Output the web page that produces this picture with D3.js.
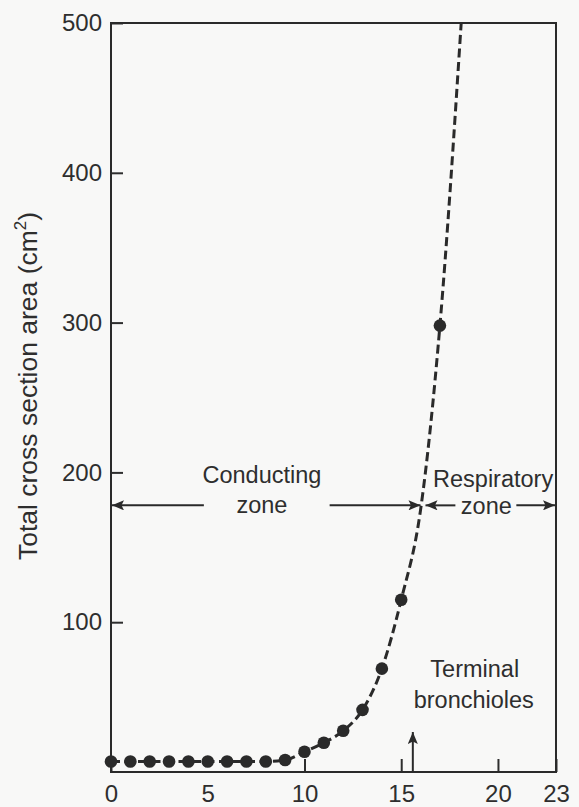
<!DOCTYPE html>
<html>
<head>
<meta charset="utf-8">
<script src="https://cdnjs.cloudflare.com/ajax/libs/d3/7.8.5/d3.min.js"></script>
<style>
  body { margin: 0; background: #f8f8f7; }
  svg { display: block; font-family: "Liberation Sans", Arial, Helvetica, sans-serif; }
  .axis text { font-size: 24px; fill: #2e2e2e; }
  .axis line { stroke: #2e2e2e; stroke-width: 2; }
  .note { font-size: 23.5px; fill: #2e2e2e; }
</style>
</head>
<body>
<script>
// airway generations that carry a dot, and the area
var dotGen = [0, 1, 2, 3, 4, 5, 6, 7, 8, 9, 10, 11, 12, 13, 14, 15, 17];
var dotArea = [7, 7, 7, 7, 7, 7, 7, 7, 7, 8, 13.5, 19.5, 27.5, 41.5, 69, 115, 298];

// dashed trend line
var curveGen = [0, 8, 9, 10, 11, 12, 13, 14, 15, 16, 17, 18.1];
var curveArea = [7, 7, 8, 13.5, 19.5, 27.5, 41.5, 69, 115, 175, 298, 500];

var xTicks = [0, 5, 10, 15, 20, 23];
var yTicks = [100, 200, 300, 400, 500];

// zone annotations (data units)
var zoneSplit = 16.1;
var zoneLevel = 178;
var terminalGen = 15.6;

var W = 579, H = 807;
var margin = {top: 23, right: 23, bottom: 35, left: 111};

var svg = d3.select("body").append("svg")
    .attr("width", W)
    .attr("height", H);

var x = d3.scaleLinear().domain([0, 23]).range([margin.left, W - margin.right]);
var y = d3.scaleLinear().domain([0, 500]).range([H - margin.bottom, margin.top]);

var ink = "#2a2a2a";

// arrow heads
var defs = svg.append("defs");
defs.append("marker")
    .attr("id", "head")
    .attr("viewBox", "0 0 12 10")
    .attr("refX", 12)
    .attr("refY", 5)
    .attr("markerWidth", 13)
    .attr("markerHeight", 10)
    .attr("markerUnits", "userSpaceOnUse")
    .attr("orient", "auto")
  .append("path")
    .attr("d", "M0,0 L12,5 L0,10 L2.5,5 Z")
    .attr("fill", ink);

// x axis
var xAxis = svg.append("g")
    .attr("class", "axis")
    .attr("transform", "translate(0," + y(0) + ")")
    .call(d3.axisBottom(x).tickValues(xTicks).tickSize(-13).tickPadding(13));
xAxis.select(".domain").remove();
xAxis.selectAll(".tick").filter(function(d) { return d == 5; }).select("line").remove();

// y axis
var yAxis = svg.append("g")
    .attr("class", "axis")
    .attr("transform", "translate(" + x(0) + ",0)")
    .call(d3.axisLeft(y).tickValues(yTicks).tickSize(-12).tickPadding(9));
yAxis.select(".domain").remove();

// frame
svg.append("rect")
    .attr("x", x(0))
    .attr("y", y(500))
    .attr("width", x(23) - x(0))
    .attr("height", y(0) - y(500))
    .attr("fill", "none")
    .attr("stroke", ink)
    .attr("stroke-width", 2);

// y label
svg.append("text")
    .attr("transform", "translate(37," + 386 + ") rotate(-90)")
    .attr("text-anchor", "middle")
    .attr("class", "note")
    .style("font-size", "26.5px")
    .text("Total cross section area (cm")
  .append("tspan")
    .attr("dy", -11)
    .style("font-size", "17px")
    .text("2")
  .select(function() { return this.parentNode; })
  .append("tspan")
    .attr("dy", 11)
    .text(")");

// dashed curve
var curvePts = curveGen.map(function(g, i) { return [g, curveArea[i]]; });
var line = d3.line()
    .x(function(d) { return x(d[0]); })
    .y(function(d) { return y(d[1]); })
    .curve(d3.curveMonotoneX);

svg.append("path")
    .attr("d", line(curvePts))
    .attr("fill", "none")
    .attr("stroke", ink)
    .attr("stroke-width", 3)
    .attr("stroke-dasharray", "9,4.5");

// dots
svg.selectAll(".dot")
    .data(dotGen.map(function(g, i) { return [g, dotArea[i]]; }))
    .enter().append("circle")
    .attr("class", "dot")
    .attr("cx", function(d) { return x(d[0]); })
    .attr("cy", function(d) { return y(d[1]); })
    .attr("r", 6.3)
    .attr("fill", ink);

// zone arrows
var ay = y(zoneLevel);
function arrow(x1, x2) {
  svg.append("line")
      .attr("x1", x1).attr("y1", ay)
      .attr("x2", x2).attr("y2", ay)
      .attr("stroke", ink)
      .attr("stroke-width", 2)
      .attr("marker-end", "url(#head)");
}
arrow(x(4.8), x(0) + 1);
arrow(x(11.3), x(zoneSplit) - 2);
arrow(x(17.8), x(zoneSplit) + 3);
arrow(x(20.95), x(23) - 1);

svg.append("text").attr("class", "note")
    .attr("x", x(7.8)).attr("y", ay - 22)
    .attr("text-anchor", "middle").text("Conducting");
svg.append("text").attr("class", "note")
    .attr("x", x(7.8)).attr("y", ay + 8)
    .attr("text-anchor", "middle").text("zone");
svg.append("text").attr("class", "note")
    .attr("x", x(19.75)).attr("y", ay - 18)
    .attr("text-anchor", "middle").text("Respiratory");
svg.append("text").attr("class", "note")
    .attr("x", x(19.4)).attr("y", ay + 9)
    .attr("text-anchor", "middle").text("zone");

// terminal bronchioles marker
svg.append("line")
    .attr("x1", x(terminalGen)).attr("y1", y(0))
    .attr("x2", x(terminalGen)).attr("y2", y(0) - 40)
    .attr("stroke", ink)
    .attr("stroke-width", 2)
    .attr("marker-end", "url(#head)");

svg.append("text").attr("class", "note")
    .attr("x", x(18.8)).attr("y", 677)
    .attr("text-anchor", "middle").text("Terminal");
svg.append("text").attr("class", "note")
    .attr("x", x(18.75)).attr("y", 708)
    .attr("text-anchor", "middle").text("bronchioles");
</script>
</body>
</html>
